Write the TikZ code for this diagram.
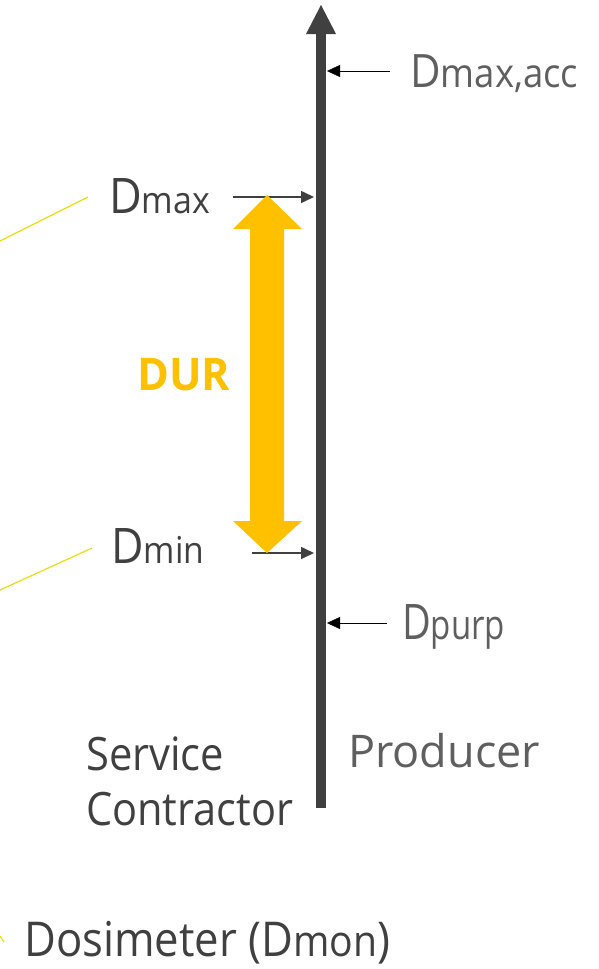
\documentclass[tikz,border=0pt]{standalone}
\usepackage{fontspec}
\usepackage{graphicx}
\setmainfont{Open Sans}
\usetikzlibrary{arrows.meta}
\definecolor{dark}{HTML}{404040}
\definecolor{mid}{HTML}{5F5F5F}
\definecolor{thin}{HTML}{666666}
\definecolor{gold}{HTML}{FFC000}
\definecolor{lemon}{RGB}{228,222,20}
\newcommand{\fit}[3]{\resizebox{#1pt}{\height}{\fontsize{#2}{#2}\selectfont #3}}
\newcommand{\fs}[2]{{\fontsize{#1}{#1}\selectfont #2}}
\tikzset{
  lbl/.style={inner sep=0pt, anchor=base west},
  ptr/.style={line width=1.6pt, -{Triangle[length=13pt,width=12pt]}},
  ylw/.style={draw=lemon, line width=1.2pt}
}
\begin{document}
\begin{tikzpicture}[x=1pt,y=-1pt]
\useasboundingbox (0,0) rectangle (599,969);
% main axis
\coordinate (axb) at (321,808);
\coordinate (axt) at (321,33);
\draw[dark, line width=10pt] (axb) -- (axt);
\fill[dark] (306,34) -- (336,34) -- (321,5) -- cycle;
% axis points
\coordinate (pacc) at (327,71);
\coordinate (pmax) at (314,197);
\coordinate (pmin) at (314,553);
\coordinate (ppur) at (327,623);
% labels
\node[lbl, text=mid] (lacc) at (410,87) {\fit{168}{46}{D\fs{40}{max,acc}}};
\node[lbl, text=dark] (lmax) at (109,213) {\fit{101}{49}{D\fs{37}{max}}};
\node[lbl, text=gold] (ldur) at (137,390) {\fit{93}{45}{\bfseries DUR}};
\node[lbl, text=dark] (lmin) at (111,563) {\fit{93}{49}{D\fs{37}{min}}};
\node[lbl, text=mid] (lpur) at (402,639) {\fit{103}{49}{D\fs{41}{purp}}};
\node[lbl, text=dark] (lsv) at (86,770) {\fit{138}{46}{Service}};
\node[lbl, text=dark] (lct) at (86,825) {\fit{207}{46}{Contractor}};
\node[lbl, text=mid] (lpr) at (348,767) {\fit{192}{45}{Producer}};
\node[lbl, text=dark] (ldo) at (24,956) {\fit{366}{48}{Dosimeter (D\fs{43}{mon})}};
% pointer arrows
\coordinate (sacc) at (390,71);
\coordinate (smax) at (233,197);
\coordinate (smin) at (252,553);
\coordinate (spur) at (387,623);
\draw[ptr, thin] (sacc) -- (pacc);
\draw[ptr, dark] (smax) -- (pmax);
\draw[ptr, dark] (smin) -- (pmin);
\draw[ptr, thin] (spur) -- (ppur);
% DUR double arrow
\fill[gold] (267,195) -- (302,229) -- (284,229) -- (284,521) -- (302,521)
  -- (267,553) -- (233,521) -- (250,521) -- (250,229) -- (233,229) -- cycle;
% yellow leader lines
\coordinate (ymax) at (88,197);
\coordinate (ymin) at (92,548);
\coordinate (ymax0) at (0,241);
\coordinate (ymin0) at (0,590);
\coordinate (ydo) at (4,942);
\coordinate (ydo0) at (0,936);
\draw[ylw] (ymax) -- (ymax0);
\draw[ylw] (ymin) -- (ymin0);
\draw[ylw] (ydo) -- (ydo0);
\end{tikzpicture}
\end{document}
